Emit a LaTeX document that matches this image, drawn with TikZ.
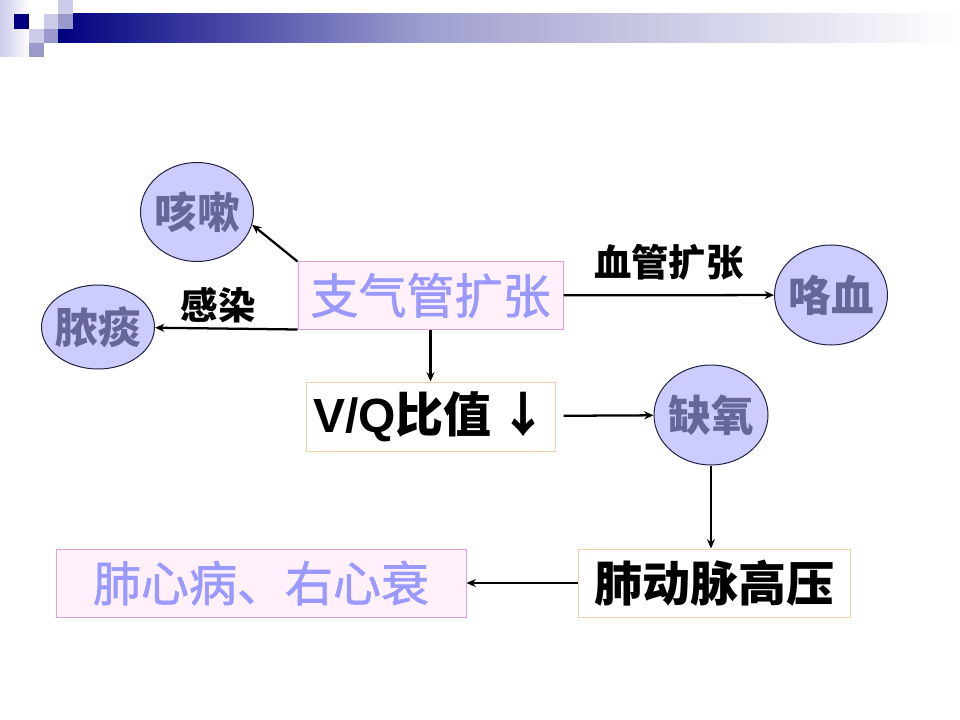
\documentclass[tikz,border=0pt]{standalone}
\usepackage{fontspec}
\newfontfamily\cjk{Noto Sans CJK SC}
\newfontfamily\cjkmed[FakeBold=1.3]{Noto Sans CJK SC}
\newfontfamily\latin{Liberation Sans}
\usetikzlibrary{arrows.meta, shapes.geometric}

\definecolor{navy}{HTML}{000080}
\definecolor{lightsq}{HTML}{CCCCEA}
\definecolor{midsq}{HTML}{9999CC}
\definecolor{barmid}{HTML}{A0A0D0}
\definecolor{ringfill}{HTML}{CCCCFF}
\definecolor{ringline}{HTML}{222244}
\definecolor{ringtext}{HTML}{666699}
\definecolor{pinkfill}{HTML}{FFF0FA}
\definecolor{pinkline}{HTML}{E0A0D8}
\definecolor{lilac}{HTML}{9999FF}
\definecolor{peachline}{HTML}{F2D2AE}

\begin{document}
\begin{tikzpicture}[
	x=0.75pt, y=-0.75pt,
	every node/.style={font=\cjk},
	flow/.style={-{Stealth[length=7pt, width=6pt]}, line width=1.7pt},
	symptom/.style={ellipse, draw=ringline, line width=0.75pt, fill=ringfill, text=ringtext,
		inner xsep=-4pt, inner ysep=0pt, font=\cjk\bfseries\fontsize{32}{36}\selectfont},
	pinkbox/.style={draw=pinkline, line width=0.75pt, fill=pinkfill, text=lilac,
		inner sep=0pt, font=\cjkmed\fontsize{36}{40}\selectfont},
	plainbox/.style={draw=peachline, line width=0.75pt, fill=white,
		inner sep=0pt, font=\cjk\bfseries\fontsize{36}{40}\selectfont},
	tag/.style={inner sep=0pt, font=\cjk\bfseries\fontsize{28}{32}\selectfont}
	]
	
	\useasboundingbox[fill=white] (0,0) rectangle (960,720);
	
	% === HEADER ===
	\shade[left color=lightsq, right color=white] (0,0) rectangle (30,57);
	\shade[left color=navy, right color=barmid] (58,14) rectangle (430,43);
	\shade[left color=barmid, right color=white] (429.5,14) rectangle (960,43);
	\fill[lightsq] (58,0) rectangle (72.5,14);
	\fill[navy] (14,14) rectangle (29,29);
	\fill[lightsq] (43.5,14) rectangle (58,29);
	\fill[midsq] (58,14) rectangle (72.5,29);
	\fill[lightsq] (29,29) rectangle (43.5,43);
	\fill[midsq] (43.5,29) rectangle (58,43);
	\fill[midsq] (29,43) rectangle (43.5,57);
	
	% === BOXES ===
	\node[pinkbox, minimum width=198.75pt, minimum height=50.25pt] (bronch) at (430.5,295.5) {支气管扩张};
	\node[plainbox, minimum width=186.75pt, minimum height=51.75pt] (vq) at (430.5,416.5)
		{{\latin\bfseries V/Q}比值\,↓};
	\node[plainbox, minimum width=204pt, minimum height=51pt] (pah) at (714,583) {肺动脉高压};
	\node[pinkbox, minimum width=307.5pt, minimum height=51pt] (cor) at (261,583) {肺心病、右心衰};
	
	% === SYMPTOMS ===
	\node[symptom, minimum width=84.75pt, minimum height=74.25pt] (cough) at (197,212) {咳嗽};
	\node[symptom, minimum width=84.75pt, minimum height=63pt] (sputum) at (98,327) {脓痰};
	\node[symptom, minimum width=84.75pt, minimum height=75pt] (hemop) at (831,295) {咯血};
	\node[symptom, minimum width=85.5pt, minimum height=75pt] (hypoxia) at (711,415) {缺氧};
	
	% === ARROWS ===
	\draw[flow] (bronch.north west) -- (cough.-13);
	\draw[flow] (bronch.south west) -- node[tag, midway, above=3pt, xshift=-6pt] {感染} (sputum);
	\draw[flow] (bronch) -- node[tag, midway, above=10pt] {血管扩张} (hemop);
	\draw[flow] (bronch) -- (vq);
	\draw[flow, shorten <=6pt] (vq) -- (hypoxia);
	\draw[flow] (hypoxia) -- (hypoxia |- pah.north);
	\draw[flow] (pah) -- (cor);
	
\end{tikzpicture}
\end{document}
